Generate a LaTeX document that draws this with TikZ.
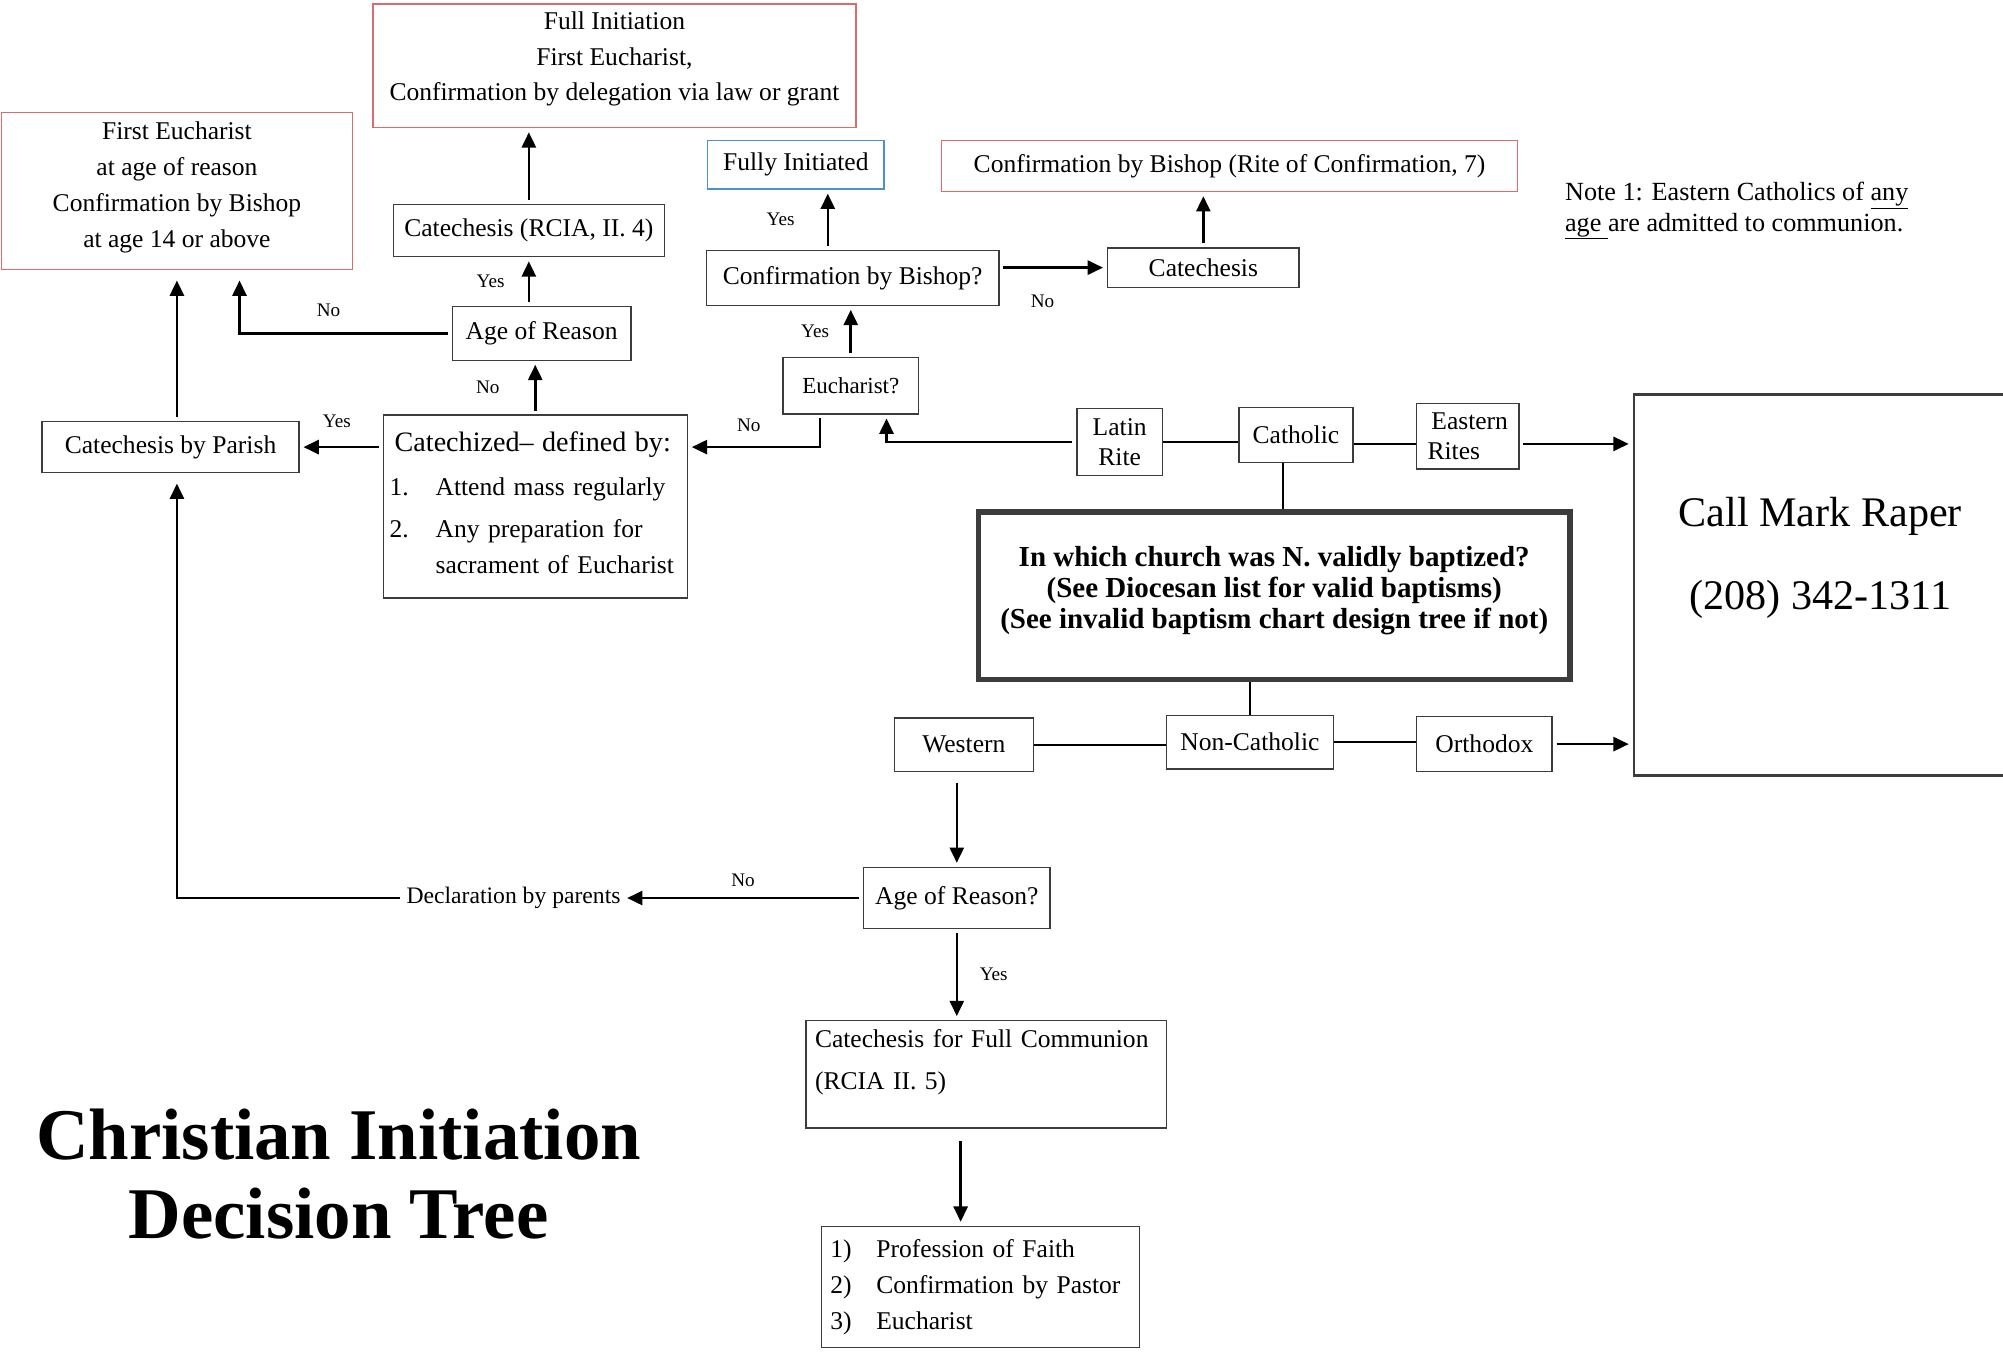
\documentclass[tikz,border=0pt]{standalone}
\usepackage{fontspec}
\setmainfont{Liberation Serif}
\usepackage{xcolor}
\usetikzlibrary{arrows.meta}
\usetikzlibrary{positioning}
\definecolor{boxgray}{RGB}{60,60,60}
\definecolor{boxred}{RGB}{218,108,108}
\definecolor{boxblue}{RGB}{74,144,210}
\tikzset{
  box/.style = {draw=boxgray, line width=1.1pt, inner sep=3pt, align=center,
    font=\fontsize{20}{28}\selectfont}
}
\tikzset{
  red box/.style = {box, draw=boxred},
  blue box/.style = {box, draw=boxblue}
}
\tikzset{
  answer/.style = {font=\fontsize{15}{18}\selectfont, inner sep=2pt}
}
\tikzset{
  flow/.style = {->, line width=2pt, shorten <=3pt, shorten >=3pt},
  link line/.style = {line width=1.6pt}
}
\tikzset{
    >={Triangle[length=12pt, width=11pt]}
}

\begin{document}
\begin{tikzpicture}[x=1pt, y=-1pt]
  \useasboundingbox (0,0) rectangle (1568,1058);
  \clip (0,0) rectangle (1568,1058);

  % outcomes along the top
  \node[red box, minimum width=275pt, minimum height=123pt] (fe) at (138.5,149.5)
    {First Eucharist\\at age of reason\\Confirmation by Bishop\\at age 14 or above\rule[-10pt]{0pt}{1pt}};
  \node[red box, minimum width=378pt, minimum height=97pt] (full) at (481,51.5)
    {Full Initiation\\First Eucharist,\\Confirmation by delegation via law or grant\rule[-15pt]{0pt}{1pt}};
  \node[blue box, minimum width=138pt, minimum height=38pt] (fully) at (623,129) {Fully Initiated};
  \node[red box, minimum width=451pt, minimum height=40pt] (rite) at (962.5,130)
    {Confirmation by Bishop (Rite of Confirmation, 7)};

  \node[anchor=west, align=left, font=\fontsize{20.5}{24}\selectfont, inner sep=0pt] (note) at (1225,165)
    {Note 1: Eastern Catholics of \underline{any}\\\underline{age\ }are admitted to communion.};

  % Catholic branch
  \node[box, minimum width=212pt, minimum height=41pt] (rcia) at (414,180.5) {Catechesis (RCIA, II. 4)};
  \node[box, minimum width=229pt, minimum height=43pt] (bishop) at (667.5,217.5) {Confirmation by Bishop?};
  \node[box, minimum width=150pt, minimum height=31pt] (cat) at (942,209.5) {Catechesis};
  \node[box, minimum width=140pt, minimum height=42pt] (reason) at (424,261) {Age of Reason};
  \node[box, minimum width=106pt, minimum height=44pt, font=\fontsize{18}{24}\selectfont] (euch) at (666,302) {Eucharist?};
  \node[box, minimum width=201pt, minimum height=40pt] (parish) at (133.5,350) {Catechesis by Parish};
  \node[box, minimum width=238pt, minimum height=143pt, text width=228pt, inner xsep=5pt, align=left] (catz) at (419,396.5)
    {{\fontsize{22}{28}\selectfont\hspace*{4pt}Catechized– defined by:}\\[6pt]
     \makebox[36pt][l]{1.}Attend mass regularly\\[5pt]
     \makebox[36pt][l]{2.}Any preparation for\\
     \hspace*{36pt}sacrament of Eucharist\rule[-6pt]{0pt}{1pt}};

  \node[box, minimum width=67pt, minimum height=52pt, font=\fontsize{20}{24}\selectfont] (latin) at (876.5,346) {Latin\\Rite};
  \node[box, minimum width=89pt, minimum height=43pt] (catholic) at (1014.5,340.5) {Catholic};
  \node[box, minimum width=80pt, minimum height=51pt, font=\fontsize{20}{24}\selectfont, align=left] (eastern) at (1149,341.5)
    {\hspace*{3pt}Eastern\\Rites};

  \node[box, line width=2pt, minimum width=292pt, minimum height=298pt, font=\fontsize{33}{65}\selectfont] (call) at (1425,458)
    {Call Mark Raper\\(208) 342-1311\rule[-50pt]{0pt}{1pt}};

  \node[box, line width=4.5pt, minimum width=463pt, minimum height=131pt, font=\bfseries\fontsize{22.7}{24.5}\selectfont] (church) at (997.5,466.5)
    {In which church was N. validly baptized?\\(See Diocesan list for valid baptisms)\\(See invalid baptism chart design tree if not)\rule[-13pt]{0pt}{1pt}};

  % non-Catholic branch
  \node[box, minimum width=109pt, minimum height=42pt] (western) at (754.5,583) {Western};
  \node[box, minimum width=131pt, minimum height=42pt] (noncath) at (978.5,581) {Non-Catholic};
  \node[box, minimum width=106pt, minimum height=43pt] (orth) at (1162,582.5) {Orthodox};
  \node[box, minimum width=146pt, minimum height=48pt] (ageq) at (749,703) {Age of Reason?};
  \node[font=\fontsize{18.5}{22}\selectfont, inner sep=2pt] (decl) at (402,703) {Declaration by parents};
  \node[box, minimum width=282pt, minimum height=84pt, text width=268pt, inner xsep=7pt, align=left, font=\fontsize{20}{33}\selectfont] (cfc) at (772,841)
    {Catechesis for Full Communion\\(RCIA II. 5)\rule[-23pt]{0pt}{1pt}};
  \node[box, minimum width=249pt, minimum height=95pt, text width=235pt, inner xsep=7pt, align=left] (final) at (767.5,1007.5)
    {\makebox[36pt][l]{1)}Profession of Faith\\\makebox[36pt][l]{2)}Confirmation by Pastor\\\makebox[36pt][l]{3)}Eucharist};

  \node[font=\bfseries\fontsize{57}{62}\selectfont, align=center] (title) at (265,919) {Christian Initiation\\Decision Tree};

  % connectors
  \draw[flow, shorten >=8pt] (fe.south |- parish.north) -- (fe.south);
  \draw[flow, shorten >=8pt] (reason.west) -| node[answer, pos=0.29, above=10pt] {No} ([xshift=49pt]fe.south);
  \draw[flow] (reason.north -| rcia.south) -- node[answer, left=16pt] {Yes} (rcia.south);
  \draw[flow] (rcia.north) -- (rcia.north |- full.south);
  \draw[flow] (catz.north) -- node[answer, left=25pt] {No} (catz.north |- reason.south);
  \draw[flow] (catz.west |- parish.east) -- node[answer, pos=0.55, above=12pt] {Yes} (parish.east);
  \draw[flow] ([xshift=-24pt]euch.south) |- node[answer, pos=0.77, above=9pt] {No} (catz.east |- parish.east);
  \draw[flow] (latin.west) -| ([xshift=28pt]euch.south);
  \draw[flow] (euch.north) -- node[answer, left=14pt] {Yes} (euch.north |- bishop.south);
  \draw[flow] ([xshift=25pt]fully.south |- bishop.north) -- node[answer, left=23pt] {Yes} ([xshift=25pt]fully.south);
  \draw[flow] (bishop.east |- cat.west) -- node[answer, pos=0.4, below=18pt] {No} (cat.west);
  \draw[flow] (cat.north) -- (cat.north |- rite.south);

  \draw[link line] (latin.east) -- (latin.east -| catholic.west);
  \draw[link line] ([yshift=-7pt]catholic.east) -- ([yshift=-7pt]catholic.east -| eastern.west);
  \draw[flow] ([yshift=-6pt]eastern.east) -- ([yshift=-6pt]eastern.east -| call.west);
  \draw[link line] ([xshift=-10pt]catholic.south) -- ([xshift=-10pt]catholic.south |- church.north);
  \draw[link line] (noncath.north |- church.south) -- (noncath.north);
  \draw[link line] (western.east) -- (western.east -| noncath.west);
  \draw[link line] (noncath.east) -- (noncath.east -| orth.west);
  \draw[flow] (orth.east) -- (orth.east -| call.west);

  \draw[flow, shorten <=8pt] (ageq.north |- western.south) -- (ageq.north);
  \draw[flow] (ageq.west) -- node[answer, above=6pt] {No} (decl.east);
  \draw[flow, shorten >=8pt] (decl.west) -| ([xshift=5pt]parish.south);
  \draw[flow] (ageq.south) -- node[answer, right=15pt] {Yes} (ageq.south |- cfc.north);
  \draw[flow, shorten <=10pt] ([xshift=-20pt]cfc.south) -- ([xshift=-20pt]cfc.south |- final.north);
\end{tikzpicture}
\end{document}
